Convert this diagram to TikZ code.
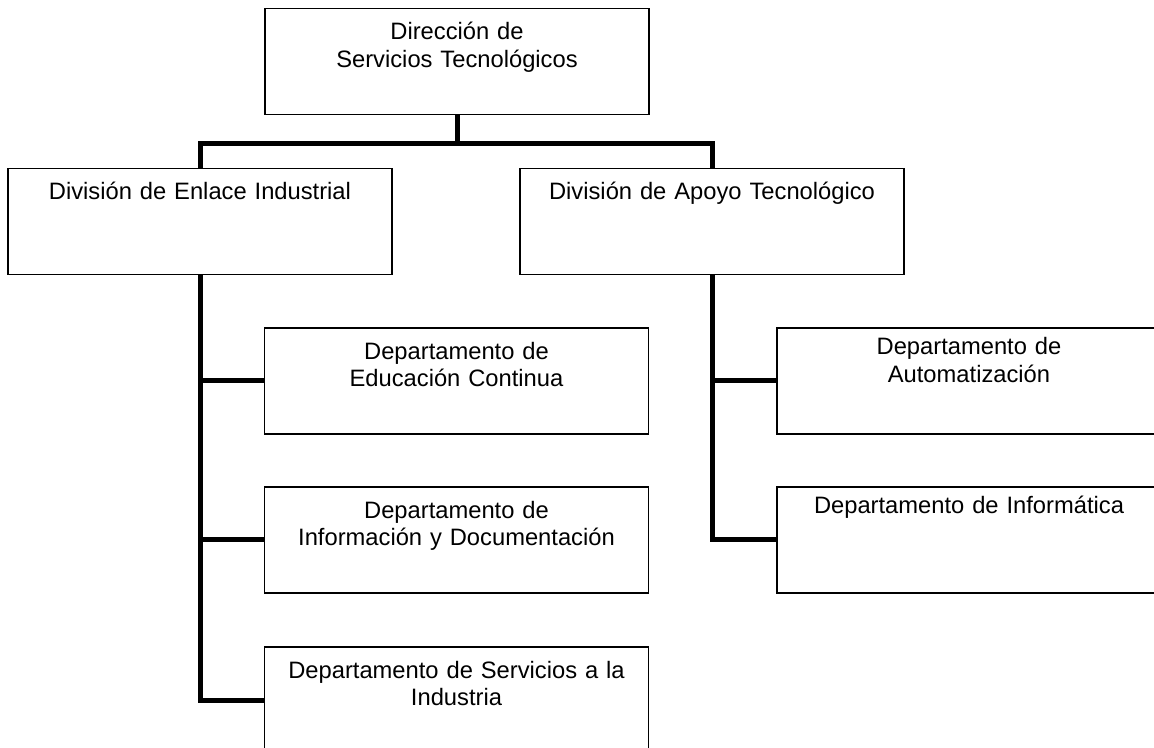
\documentclass[tikz,border=0pt]{standalone}
\usepackage{fontspec}
\setmainfont{Liberation Sans}
\usetikzlibrary{positioning}

\begin{document}
\begin{tikzpicture}[x=0.75pt,y=-0.75pt,
                caja/.style={draw=black, line width=1pt, inner sep=0pt, text width=288pt, align=center,
                    text height=23.5pt, text depth=56pt, font=\fontsize{17.8}{20.6}\selectfont},
                cajader/.style={caja, text height=20pt, text depth=59.5pt},
                conector/.style={draw=black, line width=3.75pt}]
                \useasboundingbox (0,0) rectangle (1154,748);
                \fill [white] (0,0) rectangle (1154,748);
                \clip (0,0) rectangle (1154,748);
                \node [caja] (direccion) at (457,61.5) {Dirección de\\Servicios Tecnológicos};
                \node [caja] (divEnlace) at (200,221.5) {División de Enlace Industrial};
                \node [caja] (divApoyo) at (712,221.5) {División de Apoyo Tecnológico};
                \node [caja] (depEducacion) at (456.5,381) {Departamento de\\Educación Continua};
                \node [caja] (depInformacion) at (456.5,540) {Departamento de\\Información y Documentación};
                \node [caja] (depServicios) at (456.5,700) {Departamento de Servicios a la\\Industria};
                \node [cajader] (depAutomatizacion) at (969,381) {Departamento de\\Automatización};
                \node [cajader] (depInformatica) at (969,540) {Departamento de Informática};
                \coordinate (union) at (457,144);
                \draw [conector] (direccion.south) -- (union);
                \draw [conector] (divEnlace.north) |- (union) -| (divApoyo.north);
                \draw [conector] (divEnlace.south) |- (depEducacion.west);
                \draw [conector] (divEnlace.south) |- (depInformacion.west);
                \draw [conector] (divEnlace.south) |- (depServicios.west);
                \draw [conector] (divApoyo.south) |- (depAutomatizacion.west);
                \draw [conector] (divApoyo.south) |- (depInformatica.west);
            \end{tikzpicture}
\end{document}
